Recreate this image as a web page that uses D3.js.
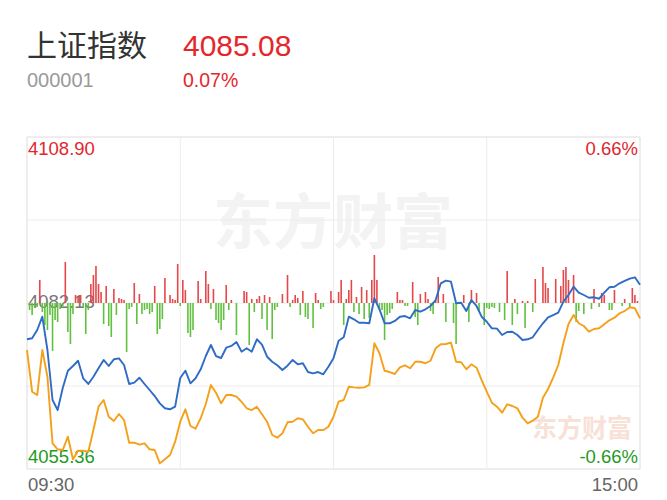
<!DOCTYPE html>
<html><head><meta charset="utf-8">
<script src="https://cdn.jsdelivr.net/npm/d3@7"></script>
<style>body{margin:0;background:#fff}svg{display:block}</style>
</head><body>
<svg id="c" width="667" height="500"></svg>
<script>
const title = "上证指数";
const code = "000001";
const lastPrice = "4085.08";
const lastPct = "0.07%";
const prevClose = 4082.13;
const yMin = 4055.36, yMax = 4108.90;
const topPctLabel = "0.66%", botPctLabel = "-0.66%";
const timeLabels = ["09:30", "15:00"];
const watermark = "东方财富";

// price line, every 2 minutes from 09:30 (121 points)
const priceSeries = [4076.28,4076.44,4077.78,4079.92,4074.55,4066.49,4064.87,4068.42,4071.21,4071.97,
4072.82,4069.99,4069.07,4070.24,4071.60,4072.94,4071.97,4073.05,4073.21,4072.13,
4069.07,4069.28,4070.08,4069.07,4068.10,4067.13,4065.95,4065.15,4064.99,4065.41,
4070.03,4071.21,4069.18,4069.99,4071.44,4073.58,4075.36,4073.58,4073.26,4074.92,
4075.20,4075.84,4074.28,4074.82,4074.28,4076.28,4075.41,4073.47,4072.66,4072.08,
4071.32,4072.02,4072.94,4072.24,4072.41,4071.00,4070.79,4071.00,4070.63,4071.86,
4073.21,4076.05,4076.60,4079.92,4079.50,4078.95,4078.95,4078.86,4082.89,4081.11,
4078.86,4078.86,4079.23,4079.92,4080.03,4079.66,4081.00,4080.73,4081.11,4081.65,
4082.61,4085.31,4085.73,4085.57,4082.08,4082.18,4080.84,4082.61,4081.65,4079.92,
4079.11,4078.05,4077.99,4076.97,4077.45,4077.50,4076.97,4076.16,4076.28,4076.60,
4077.78,4078.86,4079.82,4080.19,4080.57,4082.34,4083.42,4084.76,4083.79,4083.42,
4082.98,4083.05,4082.82,4083.79,4084.66,4084.76,4085.31,4085.68,4086.05,4086.27,
4085.08];

// leading (orange) line, every 2 minutes
const leadSeries = [4074.55,4067.83,4067.29,4074.55,4070.24,4059.50,4058.54,4058.42,4060.57,4056.92,
4058.31,4058.31,4058.15,4061.65,4065.41,4066.49,4063.79,4063.10,4064.23,4063.26,
4059.60,4059.60,4059.28,4059.50,4058.54,4058.42,4056.28,4056.92,4057.62,4059.76,
4062.99,4064.99,4062.29,4061.86,4063.54,4065.84,4068.91,4067.66,4065.95,4067.29,
4067.29,4067.02,4066.21,4065.15,4064.87,4065.41,4064.18,4062.99,4060.84,4060.41,
4061.12,4062.89,4062.99,4063.54,4063.37,4062.18,4061.12,4061.65,4061.65,4062.18,
4063.79,4066.21,4066.49,4068.63,4068.53,4068.47,4068.53,4068.91,4075.63,4074.02,
4071.21,4071.00,4070.68,4071.76,4072.08,4071.60,4072.66,4072.66,4072.41,4072.82,
4074.82,4075.47,4075.52,4075.73,4072.66,4072.57,4071.44,4072.24,4071.70,4069.71,
4067.83,4066.05,4065.41,4064.44,4065.79,4065.52,4065.15,4063.63,4062.73,4063.15,
4063.79,4066.86,4068.26,4070.08,4072.13,4075.63,4078.74,4080.19,4078.86,4078.42,
4077.50,4077.94,4078.05,4078.69,4079.34,4079.76,4080.47,4080.84,4081.44,4081.28,
4079.66];

// red/green strength bars, one per minute (241 values)
const barSeries = [0,-7,-12,-5,-4,23,-9,-22,-27,-12,
-48,-17,-19,-6,-3,41,-29,-41,-11,8,
7,8,-4,-31,-7,19,28,37,19,11,
-21,17,-23,-34,14,-12,5,4,3,-49,
-6,-4,20,-21,9,-11,-7,-6,-11,-9,
17,-31,-26,-16,25,0,8,4,3,39,
-3,23,13,-30,-34,-27,0,22,4,0,
32,19,-6,14,-17,-20,-27,-17,18,-7,
3,0,-32,0,0,12,11,-42,4,-9,
4,7,-16,8,-27,6,-36,-7,-4,0,
9,0,28,-4,3,8,5,-12,12,-14,
-16,0,-25,10,3,-6,-4,0,0,12,
3,0,11,23,-22,4,13,23,-9,6,
-11,16,-16,13,-15,23,48,23,-7,-7,
-37,-12,-10,-6,0,11,3,3,-3,-3,
0,21,-14,-22,9,0,11,4,-8,-11,
3,26,0,9,-19,0,0,-20,-41,0,
0,8,0,-19,13,0,10,-9,0,-22,
-5,-6,-4,-5,0,-9,0,-17,32,0,
-22,4,-11,0,2,-25,2,0,-9,24,
0,0,36,20,15,0,0,24,0,17,
33,36,23,0,28,-19,-8,0,-11,0,
0,-6,14,0,-4,10,8,0,-7,-7,
13,0,0,-3,4,0,-4,15,8,2,
0];

const svg = d3.select("#c");
const L = 27, R = 640, T = 137, B = 469;
const x = d3.scaleLinear().domain([0, 240]).range([L, R]);
const y = d3.scaleLinear().domain([yMin, yMax]).range([B, T]);
const yb = d3.scaleLinear().domain([-50, 50]).range([y(prevClose) + 50, y(prevClose) - 50]);

const numFont = "'Liberation Sans', Arial, sans-serif";
const cjkFont = "'Noto Sans CJK SC', sans-serif";

// header
svg.append("text").attr("x", 27).attr("y", 56).attr("font-family", cjkFont)
  .attr("font-size", 30).attr("fill", "#333").text(title);
svg.append("text").attr("x", 183).attr("y", 56).attr("font-family", numFont)
  .attr("font-size", 30).attr("fill", "#e5262b").text(lastPrice);
svg.append("text").attr("x", 27).attr("y", 87).attr("font-family", numFont)
  .attr("font-size", 20).attr("fill", "#9a9a9a").text(code);
svg.append("text").attr("x", 183).attr("y", 87).attr("font-family", numFont)
  .attr("font-size", 19.5).attr("fill", "#e5262b").text(lastPct);

// watermarks
svg.append("text").attr("x", 333).attr("y", 244).attr("text-anchor", "middle")
  .attr("font-family", cjkFont).attr("font-weight", "bold").attr("font-size", 60)
  .attr("fill", "#f3f3f3").text(watermark);
svg.append("text").attr("x", 582).attr("y", 437).attr("text-anchor", "middle")
  .attr("font-family", cjkFont).attr("font-weight", "bold").attr("font-size", 25)
  .attr("fill", "#f8e1d6").text(watermark);

// grid
const g = svg.append("g");
const hLines = [yMax, (yMax + prevClose) / 2, prevClose, (prevClose + yMin) / 2, yMin];
g.selectAll("line.h").data(hLines).join("line")
  .attr("x1", L).attr("x2", R).attr("y1", d => y(d)).attr("y2", d => y(d))
  .attr("stroke", (d, i) => (i === 0 || i === 4) ? "#dcdcdc" : "#ececec").attr("stroke-width", 1);
g.selectAll("line.v").data([0, 60, 120, 180, 240]).join("line")
  .attr("y1", T).attr("y2", B).attr("x1", d => x(d)).attr("x2", d => x(d))
  .attr("stroke", (d, i) => (i === 0 || i === 4) ? "#dcdcdc" : "#ececec").attr("stroke-width", 1);

// axis labels
const lab = (xx, yy, txt, col, anchor) => svg.append("text").attr("x", xx).attr("y", yy)
  .attr("font-family", numFont).attr("font-size", 18.5).attr("fill", col)
  .attr("text-anchor", anchor).text(txt);
lab(28, 155, yMax.toFixed(2), "#e0272d", "start");
lab(638, 155, topPctLabel, "#e0272d", "end");
lab(28, 308, prevClose.toFixed(2), "#777", "start");
lab(28, 463, yMin.toFixed(2), "#1f9a1f", "start");
lab(638, 463, botPctLabel, "#1f9a1f", "end");
lab(28, 491, timeLabels[0], "#666", "start");
lab(638, 491, timeLabels[1], "#666", "end");

// bars
svg.append("g").selectAll("rect").data(barSeries).join("rect")
  .attr("x", (d, i) => x(i) - 0.8).attr("width", 1.6)
  .attr("y", d => Math.min(yb(d), yb(0))).attr("height", d => Math.abs(yb(d) - yb(0)))
  .attr("fill", d => d >= 0 ? "#e5474a" : "#62c040");

// lines
const line = d3.line().x((d, i) => x(i * 2)).y(d => y(d));
svg.append("path").datum(leadSeries).attr("d", line).attr("fill", "none")
  .attr("stroke", "#f5a01a").attr("stroke-width", 1.9).attr("stroke-linejoin", "round");
svg.append("path").datum(priceSeries).attr("d", line).attr("fill", "none")
  .attr("stroke", "#2f6cc5").attr("stroke-width", 1.9).attr("stroke-linejoin", "round");
</script>
</body></html>
